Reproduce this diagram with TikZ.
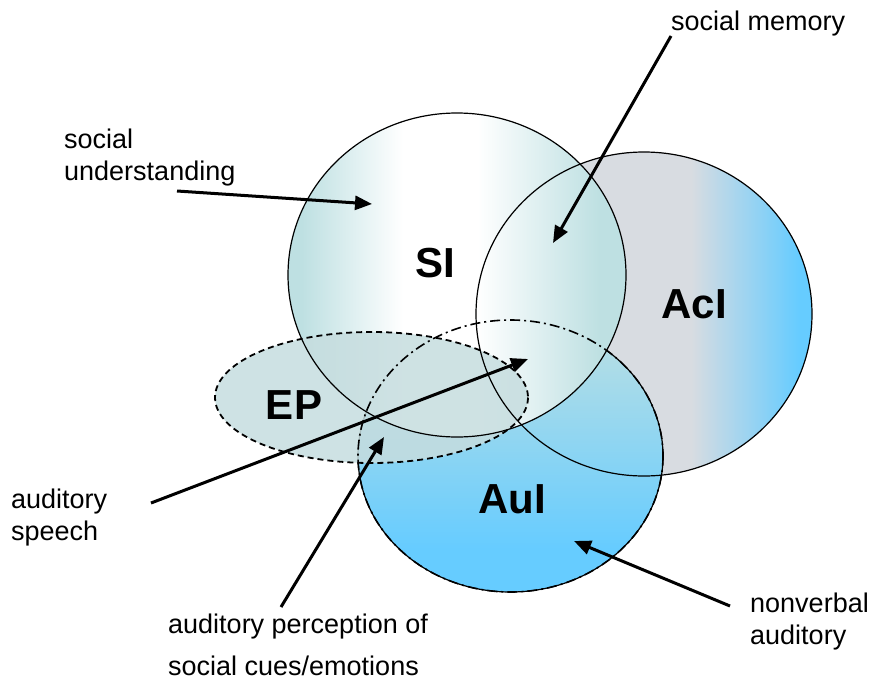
\documentclass[tikz,border=0pt]{standalone}
\usepackage{fontspec}
\setmainfont{Liberation Sans}
\usetikzlibrary{arrows.meta}
\definecolor{siteal}{RGB}{190,224,226}
\definecolor{acgray}{RGB}{216,220,225}
\definecolor{skyb}{RGB}{102,204,255}
\definecolor{epfill}{RGB}{198,221,223}
\pgfdeclarehorizontalshading{sishade}{100bp}{color(0bp)=(siteal); color(27bp)=(siteal); color(42bp)=(white); color(53bp)=(white); color(71bp)=(siteal); color(100bp)=(siteal)}
\pgfdeclarehorizontalshading{acshade}{100bp}{color(0bp)=(acgray); color(57bp)=(acgray); color(73bp)=(skyb); color(100bp)=(skyb)}
\pgfdeclareverticalshading{aushade}{100bp}{color(0bp)=(skyb); color(33bp)=(skyb); color(75bp)=(siteal); color(100bp)=(siteal)}
\tikzset{rim/.style={draw=black,line width=1.2pt},
 eprim/.style={draw=black,line width=1.8pt,dash pattern=on 6pt off 4pt},
 aurim/.style={draw=black,line width=1.6pt,dash pattern=on 10pt off 4pt on 2pt off 4pt},
 lbl/.style={font=\fontsize{27}{32}\selectfont,align=left,inner sep=0pt,anchor=west},
 area/.style={font=\fontsize{42}{48}\selectfont\bfseries,inner sep=0pt},
 ptr/.style={line width=3pt,-{Triangle[length=17pt,width=14pt]}}}
\newcommand{\siarea}{(457,275) ellipse[x radius=169,y radius=162]}
\newcommand{\acarea}{(644,314) ellipse[x radius=168,y radius=162]}
\newcommand{\auarea}{(510.5,456) ellipse[x radius=152.5,y radius=136]}
\newcommand{\eparea}{(371.5,397.5) ellipse[x radius=156.5,y radius=65.5]}
\begin{document}
\begin{tikzpicture}[x=1pt,y=-1pt]
\useasboundingbox (0,0) rectangle (872,680);
% regions, back to front
\shade[shading=acshade] \acarea;
\shade[shading=aushade,rim] \auarea;
\shade[shading=sishade] \siarea;
\fill[epfill,fill opacity=.85] \eparea;
% outlines on top
\draw[rim] \siarea;
\draw[rim] \acarea;
\draw[aurim] \auarea;
\draw[eprim] \eparea;
% region names
\node[area](si) at(435,263){SI};
\node[area](ac) at(694,304){AcI};
\node[area](ep) at(294,405){EP};
\node[area](au) at(512,499){AuI};
% labels
\node[lbl](su) at(64,158){social\\understanding};
\node[lbl](sm) at(671,24){social memory};
\node[lbl](as) at(11,518){auditory\\speech};
\node[lbl](ap) at(168,645){auditory perception of\\[10pt]social cues/emotions};
\node[lbl](nv) at(750,622){nonverbal\\auditory};
% pointers
\coordinate(su0) at(177,191);\coordinate(su1) at(372,204);
\coordinate(sm0) at(671,36);\coordinate(sm1) at(553,243);
\coordinate(as0) at(151,503);\coordinate(as1) at(528,359);
\coordinate(ap0) at(281,607);\coordinate(ap1) at(384,437);
\coordinate(nv0) at(730,606);\coordinate(nv1) at(574,541);
\draw[ptr](su0)--(su1);\draw[ptr](sm0)--(sm1);\draw[ptr](as0)--(as1);
\draw[ptr](ap0)--(ap1);\draw[ptr](nv0)--(nv1);
\end{tikzpicture}
\end{document}
